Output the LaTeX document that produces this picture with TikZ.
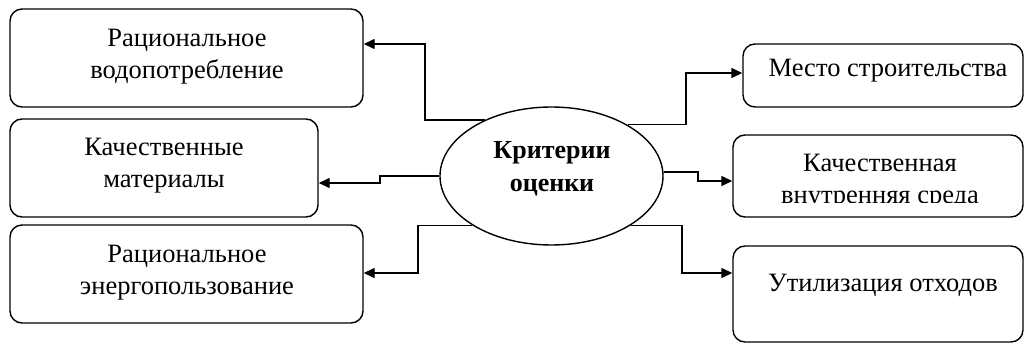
\documentclass[tikz,border=0pt]{standalone}
\usepackage{fontspec}
\setmainfont{Liberation Serif}
\usetikzlibrary{arrows.meta,shapes.geometric}
\begin{document}
\begin{tikzpicture}[x=1pt,y=-1pt,
  box/.style={draw, line width=1.4pt, rounded corners=12pt, inner sep=0pt},
  txt/.style={align=center, inner sep=0pt, font=\fontsize{26.5}{32}\selectfont},
  conn/.style={line width=1.4pt, -{Triangle[length=11pt,width=10pt]}},
]
\useasboundingbox (0,0) rectangle (1027,344);
% boxes
\node[box, minimum width=353pt, minimum height=98pt] (L1) at (186.5,58) {};
\node[box, minimum width=308pt, minimum height=98pt] (L2) at (164,168) {};
\node[box, minimum width=353pt, minimum height=98pt] (L3) at (186.5,274) {};
\node[box, minimum width=280pt, minimum height=63pt] (R1) at (883,75.5) {};
\node[box, minimum width=290pt, minimum height=82pt] (R2) at (878,176) {};
\node[box, minimum width=290pt, minimum height=96pt] (R3) at (878,294) {};
% texts
\node[txt] (tL1) at (187,57) {Рациональное\\водопотребление};
\node[txt] (tL2) at (164,166) {Качественные\\материалы};
\node[txt] (tL3) at (187,272.5) {Рациональное\\энергопользование};
\node[txt] (tR1) at (888,71) {Место строительства};
\begin{scope}
\clip (733,135) rectangle (1027,203);
\node[txt] (tR2) at (880,182) {Качественная\\внутренняя среда};
\end{scope}
\node[txt] (tR3) at (883,285) {Утилизация отходов};
% ellipse
\node[ellipse, draw, line width=1.4pt, minimum width=223pt, minimum height=138pt, inner sep=0pt] (crit) at (551.5,176) {};
\node[txt, font=\fontsize{26}{33}\selectfont\bfseries] (tcrit) at (552,169) {Критерии\\оценки};
% connectors
\draw[conn] (crit.140.7) -| (425,44) -- ([yshift=14pt]L1.east);
\draw[conn] (crit.west) -| (380,183) -- ([yshift=-15pt]L2.east);
\draw[conn] (crit.212) -| (418,273) -- ([yshift=1pt]L3.east);
\draw[conn] (crit.34.2) -| (686,73) -- ([yshift=2.5pt]R1.west);
\draw[conn] (crit.2) -| (698,181) -- ([yshift=-5pt]R2.west);
\draw[conn] (crit.328) -| (682,273) -- ([yshift=21pt]R3.west);
\end{tikzpicture}
\end{document}
